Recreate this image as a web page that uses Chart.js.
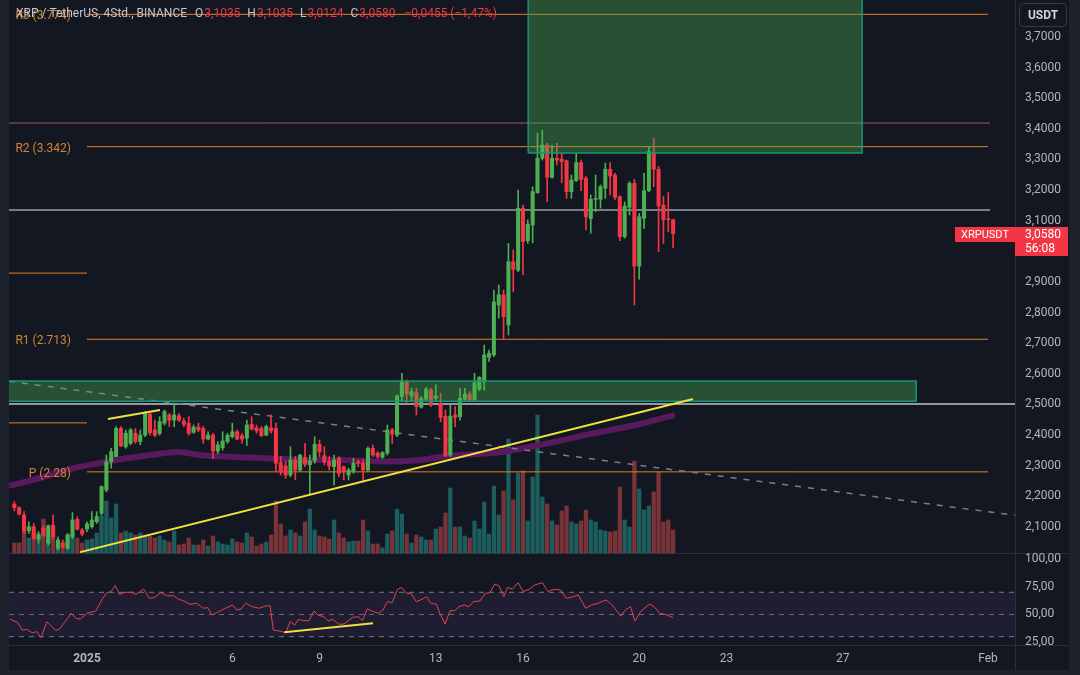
<!DOCTYPE html>
<html><head><meta charset="utf-8">
<script src="https://cdn.jsdelivr.net/npm/chart.js@4.4.1/dist/chart.umd.min.js"></script>
<style>
html,body{margin:0;padding:0;background:#1e222d;}
#wrap{width:1080px;height:675px;position:relative;}
</style></head><body>
<div id="wrap"><canvas id="c" width="1080" height="675"></canvas></div>
<script>
// ---------------- DATA ----------------
// x unit: days relative to 2025-01-01 00:00; candles are 4h (first one 29 Dec 12:00)
const firstCandleDay = -2.5;
const candleHours = 4;
const open = [2.175,2.163,2.139,2.088,2.101,2.060,2.096,2.047,2.104,2.030,
2.049,2.030,2.068,2.125,2.090,2.093,2.101,2.117,2.145,2.221,
2.313,2.330,2.422,2.362,2.373,2.406,2.379,2.400,2.469,2.417,
2.406,2.439,2.466,2.449,2.463,2.446,2.439,2.409,2.426,2.422,
2.387,2.400,2.348,2.359,2.379,2.395,2.411,2.398,2.390,2.435,
2.424,2.422,2.400,2.424,2.422,2.310,2.300,2.270,2.319,2.286,
2.326,2.303,2.316,2.370,2.333,2.313,2.297,2.324,2.297,2.270,
2.281,2.313,2.308,2.286,2.357,2.341,2.328,2.341,2.417,2.400,
2.526,2.574,2.528,2.539,2.491,2.517,2.547,2.520,2.504,2.462,
2.335,2.466,2.460,2.517,2.534,2.515,2.550,2.574,2.654,2.662,
2.825,2.858,2.760,2.966,2.939,3.141,3.035,3.086,3.192,3.304,
3.347,3.242,3.304,3.301,3.296,3.195,3.231,3.290,3.239,3.107,
3.170,3.170,3.206,3.268,3.249,3.179,3.048,3.144,3.222,2.952,
3.108,3.198,3.320,3.268,3.151,3.105,3.1035];
const high = [2.183,2.166,2.150,2.117,2.112,2.085,2.103,2.107,2.139,2.068,
2.058,2.079,2.147,2.134,2.096,2.117,2.150,2.150,2.234,2.335,
2.357,2.428,2.428,2.417,2.422,2.422,2.417,2.477,2.471,2.449,
2.460,2.482,2.471,2.505,2.471,2.455,2.460,2.433,2.439,2.428,
2.411,2.406,2.379,2.411,2.406,2.439,2.417,2.406,2.449,2.460,
2.433,2.428,2.433,2.466,2.439,2.330,2.313,2.362,2.330,2.337,
2.373,2.335,2.395,2.384,2.362,2.330,2.335,2.330,2.299,2.292,
2.324,2.319,2.319,2.362,2.368,2.346,2.346,2.433,2.422,2.531,
2.602,2.580,2.553,2.553,2.526,2.556,2.553,2.564,2.537,2.482,
2.498,2.493,2.553,2.553,2.542,2.602,2.591,2.694,2.678,2.874,
2.890,2.874,3.026,3.005,3.200,3.151,3.103,3.211,3.386,3.396,
3.353,3.347,3.353,3.320,3.298,3.249,3.320,3.298,3.244,3.184,
3.249,3.217,3.288,3.290,3.255,3.181,3.162,3.228,3.235,3.124,
3.255,3.342,3.369,3.277,3.179,3.192,3.1035];
const low = [2.153,2.139,2.079,2.079,2.058,2.047,2.068,2.041,2.058,2.025,
2.030,2.027,2.063,2.090,2.071,2.085,2.096,2.112,2.139,2.215,
2.292,2.330,2.362,2.357,2.368,2.373,2.368,2.395,2.400,2.395,
2.400,2.433,2.428,2.427,2.444,2.428,2.400,2.406,2.411,2.373,
2.384,2.324,2.340,2.351,2.373,2.390,2.384,2.373,2.366,2.417,
2.406,2.395,2.398,2.406,2.281,2.270,2.259,2.264,2.254,2.281,
2.297,2.205,2.308,2.330,2.303,2.286,2.237,2.264,2.254,2.254,
2.275,2.297,2.248,2.281,2.330,2.324,2.324,2.335,2.373,2.395,
2.509,2.504,2.509,2.466,2.488,2.513,2.493,2.509,2.444,2.330,
2.330,2.428,2.449,2.509,2.513,2.513,2.545,2.547,2.640,2.656,
2.782,2.711,2.727,2.868,2.934,2.923,3.026,3.028,3.190,3.298,
3.162,3.239,3.282,3.224,3.173,3.173,3.228,3.198,3.070,3.059,
3.130,3.141,3.173,3.184,3.170,3.035,3.043,3.119,2.825,2.909,
3.075,3.195,3.211,2.999,3.026,3.064,3.0124];
const close = [2.163,2.142,2.085,2.101,2.063,2.077,2.073,2.104,2.068,2.058,
2.036,2.074,2.123,2.093,2.077,2.110,2.123,2.134,2.232,2.313,
2.346,2.422,2.365,2.406,2.417,2.379,2.400,2.471,2.408,2.400,
2.444,2.477,2.449,2.466,2.449,2.435,2.406,2.426,2.417,2.387,
2.400,2.348,2.368,2.381,2.400,2.411,2.387,2.387,2.433,2.420,
2.414,2.398,2.428,2.414,2.308,2.279,2.270,2.319,2.286,2.335,
2.305,2.316,2.370,2.346,2.313,2.300,2.319,2.275,2.281,2.286,
2.308,2.308,2.286,2.357,2.335,2.330,2.343,2.417,2.403,2.528,
2.574,2.534,2.542,2.493,2.520,2.550,2.498,2.528,2.458,2.332,
2.462,2.458,2.520,2.534,2.515,2.571,2.589,2.662,2.667,2.835,
2.858,2.787,2.966,2.941,3.141,3.032,3.089,3.195,3.304,3.347,
3.242,3.304,3.298,3.293,3.195,3.233,3.290,3.235,3.113,3.170,
3.173,3.211,3.268,3.246,3.177,3.048,3.148,3.222,2.952,3.113,
3.198,3.326,3.268,3.148,3.103,3.1035,3.058];
const volumeM = [10,10,21,15,20,17,34,19,28,12,
8,18,20,15,10,13,14,20,37,52,
35,49,20,22,20,18,20,17,17,15,
17,13,11,22,8,9,15,8,8,13,
7,17,11,9,8,14,11,10,20,16,
7,9,11,18,52,29,17,23,20,17,
31,44,23,17,16,14,33,20,15,11,
12,12,33,22,9,9,5,19,22,44,
39,19,10,18,16,13,13,24,26,40,
65,26,26,17,15,32,24,51,19,67,
38,62,114,53,80,82,32,76,138,56,
49,32,28,42,47,31,29,32,43,33,
31,23,22,21,22,66,33,26,92,64,
43,47,61,81,31,33,23];
const rsiDay = [-2.66,-2.38,-2.23,-2.07,-1.89,-1.73,-1.58,-1.38,-1.23,-1.07,
-0.92,-0.54,-0.38,-0.23,0.00,0.31,0.54,0.69,0.82,0.97,
1.12,1.31,1.54,1.69,1.95,2.15,2.31,2.54,2.77,2.97,
3.15,3.31,3.54,3.77,4.00,4.15,4.30,4.53,4.77,5.00,
5.15,5.30,5.46,5.69,5.92,6.15,6.30,6.41,6.61,6.84,
6.99,7.15,7.27,7.45,7.64,7.81,7.95,8.15,8.30,8.45,
8.68,8.84,9.14,9.33,9.48,9.64,9.84,10.03,10.19,10.33,
10.50,10.68,10.83,10.99,11.14,11.33,11.53,11.68,11.83,12.03,
12.14,12.32,12.49,12.65,12.80,12.98,13.14,13.29,13.52,13.71,
13.86,14.03,14.18,14.34,14.47,14.64,14.83,15.01,15.21,15.41,
15.67,15.86,16.06,16.29,16.49,16.67,16.90,17.16,17.36,17.59,
17.85,18.05,18.36,18.55,18.70,18.85,19.05,19.36,19.51,19.71,
19.90,20.17];
const rsiValue = [45.9,42.6,36.0,36.6,33.6,34.5,29.1,43.5,39.6,35.4,
37.5,51.1,46.5,45.9,51.1,53.2,64.6,69.7,70.6,76.0,
68.2,70.0,70.0,68.2,73.0,64.6,65.2,69.7,66.7,67.0,
63.7,62.5,59.2,60.1,55.6,56.2,49.5,52.6,55.6,58.6,
54.1,55.0,60.1,57.0,55.6,57.7,57.7,36.0,35.1,33.6,
43.5,40.5,45.6,44.4,44.4,53.2,49.5,48.0,44.1,45.6,
41.1,41.4,47.4,48.0,44.4,55.0,52.6,51.1,54.1,61.6,
60.7,72.7,74.2,69.1,69.1,61.6,63.7,66.1,60.1,59.2,
51.1,41.4,53.2,53.5,57.0,58.6,57.0,61.6,62.2,69.1,
69.7,77.5,75.7,66.1,74.5,72.7,78.7,70.6,72.7,76.6,
78.7,70.6,72.7,72.1,64.6,65.5,67.6,55.6,58.6,60.1,
63.1,59.2,48.6,54.7,57.0,44.1,52.6,59.5,57.0,51.1,
50.1,47.1];
const maDay = [-2.684,-1.617,-0.723,0.447,1.204,2.168,3.166,3.888,5.265,6.297,7.674,8.706,10.255,11.459,12.491,14.04,15.59,17.14,18.86,20.23];
const maValue = [2.234,2.260,2.286,2.309,2.322,2.335,2.345,2.335,2.328,2.324,2.319,2.319,2.314,2.319,2.333,2.342,2.368,2.400,2.433,2.466];

// monthly pivots (January period 1 Jan -> 1 Feb) and previous period (December)
const janStart = 0, janEnd = 31;
const janPivotNames = ['R3','R2','R1','P'];
const janPivotValues = [3.774, 3.342, 2.713, 2.28];
const decPivotValues = [2.929, 2.44];
// user horizontal lines
const userLineValues = [3.419, 3.135, 2.502];
const userLineColors = ['#a25d63', '#dfe1e6', '#c3c5cb'];
const userLineEnds = [31.07, 31.07, 40];
// rectangles (zones): start day, end day, low, high
const zoneStart = [15.18, -3];
const zoneEnd = [26.67, 28.53];
const zoneLow = [3.321, 2.511];
const zoneHigh = [3.95, 2.577];
// trend lines: [day0, value0, day1, value1]
const trendMain = [-0.24, 2.018, 20.85, 2.518];
const trendSmall = [0.72, 2.453, 2.51, 2.482];
const trendDashed = [-2.684, 2.576, 31.93, 2.138];
const trendRsi = [6.79, 33.9, 9.84, 42.0];
const rsiLevels = [70, 50, 30];
// axis ticks
const priceTicks = [2.1,2.2,2.3,2.4,2.5,2.6,2.7,2.8,2.9,3.0,3.1,3.2,3.3,3.4,3.5,3.6,3.7];
const rsiTicks = [25, 50, 75, 100];
const timeTickDays = [0, 5, 8, 12, 15, 19, 22, 26, 31];
const timeTickLabels = ['2025','6','9','13','16','20','23','27','Feb'];
const symbolTitle = 'XRP / TetherUS, 4Std., BINANCE';
const countdown = '56:08';

// ---------------- BUILD ----------------
const X_MIN = -2.684, X_MAX = 31.93;
const upCol = '#4caf50', dnCol = '#f23645';
const candleDay = i => firstCandleDay + i * candleHours / 24;
const isUp = i => close[i] >= open[i];
const candleColors = open.map((o, i) => isUp(i) ? upCol : dnCol);
const volColors = open.map((o, i) => isUp(i) ? 'rgba(38,166,154,0.5)' : 'rgba(239,83,80,0.47)');
const bodies = open.map((o, i) => ({x: candleDay(i), y: [o, close[i]]}));
const wicks = open.map((o, i) => ({x: candleDay(i), y: [low[i], high[i]]}));
const vols = volumeM.map((v, i) => ({x: candleDay(i), y: v}));
const seg = (a) => [{x: a[0], y: a[1]}, {x: a[2], y: a[3]}];
const hline = (x0, x1, v) => [{x: x0, y: v}, {x: x1, y: v}];
const rect = k => [
  {x: zoneStart[k], y: zoneLow[k]}, {x: zoneStart[k], y: zoneHigh[k]},
  {x: zoneEnd[k], y: zoneHigh[k]}, {x: zoneEnd[k], y: zoneLow[k]},
  {x: zoneStart[k], y: zoneLow[k]}];
const fmt4 = v => v.toFixed(4).replace('.', ',');
const orange = '#e67e22';

const L = (data, color, extra) => Object.assign({type: 'line', data, borderColor: color, borderWidth: 1, pointRadius: 0, fill: false, tension: 0, yAxisID: 'y'}, extra || {});

const datasets = [];
datasets.push(L(seg(trendMain), '#f0e040', {borderWidth: 2, order: 1}));
datasets.push(L(seg(trendSmall), '#f0e040', {borderWidth: 2, order: 1}));
datasets.push(L(seg(trendRsi), '#f0e040', {borderWidth: 2, order: 1, yAxisID: 'yr'}));
zoneStart.forEach((s, k) => datasets.push(L(rect(k), '#16957c', {borderWidth: 1.5, fill: 'shape', backgroundColor: 'rgba(76,175,80,0.38)', order: 3})));
datasets.push({type: 'bar', data: bodies, backgroundColor: candleColors, barThickness: 3.4, grouped: false, minBarLength: 1, yAxisID: 'y', order: 5});
datasets.push({type: 'bar', data: wicks, backgroundColor: candleColors, barThickness: 1, grouped: false, yAxisID: 'y', order: 6});
datasets.push(L(seg(trendDashed), '#7c7f8a', {borderWidth: 1.5, borderDash: [6, 7], order: 8}));
datasets.push(L(maDay.map((d, i) => ({x: d, y: maValue[i]})), '#58195d', {borderWidth: 6, tension: 0.4, cubicInterpolationMode: 'monotone', order: 9}));
janPivotValues.forEach(v => datasets.push(L(hline(janStart, janEnd, v), orange, {order: 10})));
decPivotValues.forEach(v => datasets.push(L(hline(X_MIN, janStart, v), orange, {order: 10})));
userLineValues.forEach((v, k) => datasets.push(L(hline(X_MIN, userLineEnds[k], v), userLineColors[k], {order: 10, borderWidth: k === 2 ? 1.5 : 1})));
datasets.push({type: 'bar', data: vols, backgroundColor: volColors, barThickness: 3.6, grouped: false, yAxisID: 'yv', order: 20});
// RSI panel
datasets.push(L(hline(X_MIN, X_MAX, rsiLevels[0]), '#787b86', {yAxisID: 'yr', borderDash: [5, 5], fill: '+1', backgroundColor: 'rgba(126,87,194,0.10)', order: 12}));
datasets.push(L(hline(X_MIN, X_MAX, rsiLevels[2]), '#787b86', {yAxisID: 'yr', borderDash: [5, 5], order: 12}));
datasets.push(L(hline(X_MIN, X_MAX, rsiLevels[1]), '#6a6d78', {yAxisID: 'yr', borderDash: [5, 5], order: 12}));
datasets.push(L(rsiDay.map((d, i) => ({x: d, y: rsiValue[i]})), '#e5414f', {yAxisID: 'yr', order: 11}));

const tickFont = {family: 'Roboto', size: 12};
const noPad = s => { s.paddingTop = 0; s.paddingBottom = 0; s.paddingLeft = 0; s.paddingRight = 0; };
const decor = {
  id: 'decor',
  beforeDraw(chart) {
    const {ctx, chartArea: ca, scales} = chart;
    ctx.save();
    ctx.fillStyle = '#1e222d'; ctx.fillRect(0, 0, 1080, 675);
    ctx.fillStyle = '#131722'; ctx.fillRect(ca.left, 0, 1069 - ca.left, 670);
    ctx.strokeStyle = '#2a2e39'; ctx.lineWidth = 1;
    const ln = (a, b, c, d) => { ctx.beginPath(); ctx.moveTo(a, b); ctx.lineTo(c, d); ctx.stroke(); };
    const sep = Math.round(scales.yr.top) + 0.5;
    ln(ca.left, sep, 1069, sep);
    ln(ca.left, Math.round(ca.bottom) + 0.5, 1069, Math.round(ca.bottom) + 0.5);
    ln(Math.round(ca.right) + 0.5, 0, Math.round(ca.right) + 0.5, 670);
    ctx.restore();
  },
  afterDraw(chart) {
    const {ctx, chartArea: ca, scales: {x, y, yr}} = chart;
    ctx.save();
    // clipped look for the RSI 100 label
    ctx.fillStyle = '#131722';
    ctx.fillRect(ca.right + 1, yr.top - 8, 1068 - ca.right - 1, 8);
    // pivot labels
    ctx.font = '12px Roboto'; ctx.textAlign = 'right'; ctx.textBaseline = 'middle';
    ctx.fillStyle = '#d4862f';
    const xl = x.getPixelForValue(janStart) - 16;
    janPivotNames.forEach((n, k) => ctx.fillText(`${n} (${janPivotValues[k]})`, xl, y.getPixelForValue(janPivotValues[k]) + 2));
    // header legend
    const n = open.length - 1;
    const chg = close[n] - close[n - 1];
    const pct = chg / close[n - 1] * 100;
    const minus = s => s.replace('-', '\u2212');
    ctx.textAlign = 'left'; ctx.font = '12px Roboto';
    let hx = 16; const hy = 14;
    const put = (t, c, gap) => { ctx.fillStyle = c; ctx.fillText(t, hx, hy); hx += ctx.measureText(t).width + (gap || 0); };
    put(symbolTitle, '#c3c6ce', 8);
    put('O', '#c3c6ce', 1); put(fmt4(open[n]), dnCol, 7);
    put('H', '#c3c6ce', 1); put(fmt4(high[n]), dnCol, 7);
    put('L', '#c3c6ce', 1); put(fmt4(low[n]), dnCol, 7);
    put('C', '#c3c6ce', 1); put(fmt4(close[n]), dnCol, 9);
    put(minus(fmt4(chg)) + ' (' + minus(pct.toFixed(2).replace('.', ',')) + '%)', dnCol, 0);
    // last price tags
    const py = Math.round(y.getPixelForValue(close[n]));
    ctx.fillStyle = dnCol;
    ctx.fillRect(955, py - 7, ca.right - 955, 15);
    ctx.fillRect(ca.right, py - 7, 1068 - ca.right, 29);
    ctx.fillStyle = '#ffffff';
    ctx.font = '11px Roboto'; ctx.textAlign = 'center';
    ctx.fillText('XRPUSDT', (955 + ca.right) / 2, py + 1);
    ctx.font = '12px Roboto'; ctx.textAlign = 'left';
    ctx.fillText(fmt4(close[n]), ca.right + 10, py + 1);
    ctx.fillText(countdown, ca.right + 10, py + 15);
    // currency box
    ctx.strokeStyle = '#363a45'; ctx.lineWidth = 1;
    ctx.beginPath(); ctx.roundRect(1019.5, 3.5, 47, 23, 4); ctx.fillStyle = '#131722'; ctx.fill(); ctx.stroke();
    ctx.fillStyle = '#d1d4dc'; ctx.font = 'bold 12px Roboto'; ctx.textAlign = 'center';
    ctx.fillText('USDT', 1043, 15.5);
    ctx.restore();
  }
};

Chart.defaults.font.family = 'Roboto';
new Chart(document.getElementById('c'), {
  type: 'bar',
  data: {datasets},
  plugins: [decor],
  options: {
    responsive: false, animation: false, devicePixelRatio: 1,
    layout: {padding: {left: 9, right: 11, top: 0, bottom: 5}},
    plugins: {legend: {display: false}, tooltip: {enabled: false}},
    elements: {point: {radius: 0}},
    scales: {
      x: {
        type: 'linear', min: X_MIN, max: X_MAX, offset: false,
        grid: {display: false, drawTicks: false}, border: {display: false},
        afterBuildTicks: s => { s.ticks = timeTickDays.map(v => ({value: v})); },
        afterFit: s => { s.height = 25; noPad(s); },
        ticks: {
          autoSkip: false, maxRotation: 0, padding: 7, color: '#b2b5be',
          font: c => (c.tick && c.tick.value === 0) ? {family: 'Roboto', size: 12, weight: 'bold'} : {family: 'Roboto', size: 12},
          callback: v => timeTickLabels[timeTickDays.indexOf(v)]
        }
      },
      y: {
        type: 'linear', position: 'right', stack: 'panes', stackWeight: 553,
        min: 2.0151, max: 3.8208,
        grid: {display: false, drawTicks: false}, border: {display: false},
        afterBuildTicks: s => { s.ticks = priceTicks.map(v => ({value: v})); },
        afterFit: s => { s.width = 54; noPad(s); },
        ticks: {autoSkip: false, padding: 10, color: '#b2b5be', font: tickFont, callback: v => fmt4(v)}
      },
      yr: {
        type: 'linear', position: 'right', stack: 'panes', stackWeight: 92,
        min: 22.5, max: 105.4,
        grid: {display: false, drawTicks: false}, border: {display: false},
        afterBuildTicks: s => { s.ticks = rsiTicks.map(v => ({value: v})); },
        afterFit: s => { s.width = 54; noPad(s); },
        ticks: {autoSkip: false, padding: 10, color: '#b2b5be', font: tickFont, callback: v => v.toFixed(2).replace('.', ',')}
      },
      yv: {
        type: 'linear', position: 'left', display: false, min: -92, max: 553,
        afterFit: s => { noPad(s); }
      }
    }
  }
});
</script>
</body></html>
